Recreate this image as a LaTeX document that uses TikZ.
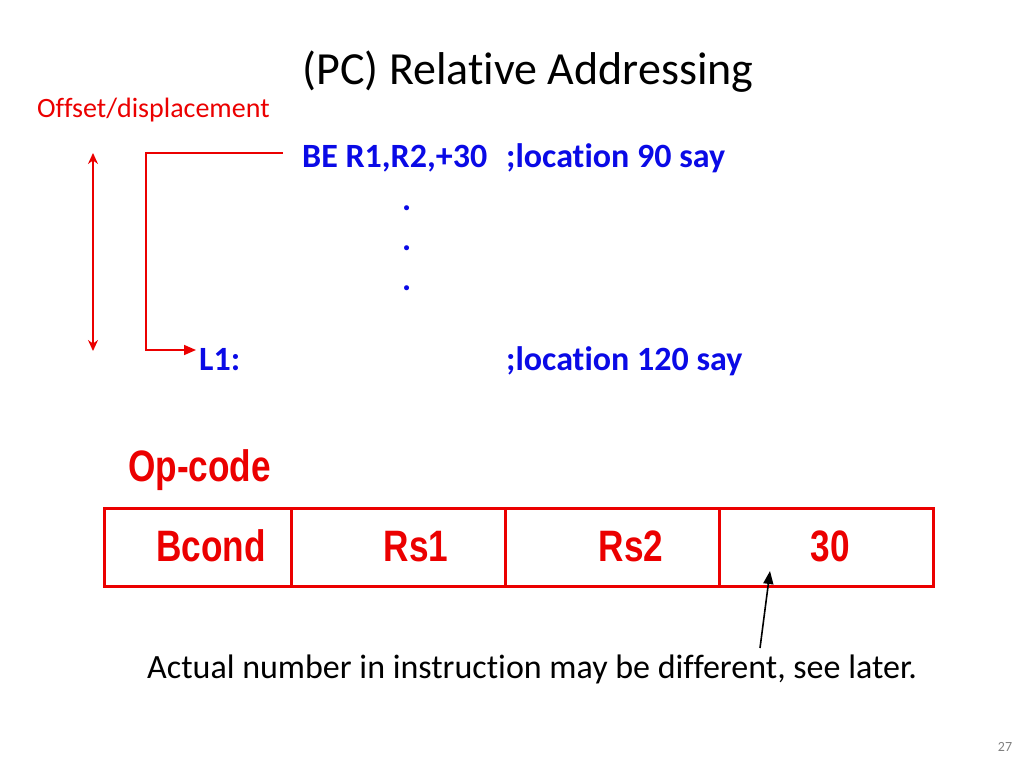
\documentclass[tikz,border=0pt]{standalone}
\usepackage{fontspec}
\setmainfont[Ligatures=NoCommon]{Carlito}
\newfontfamily\narrowfont[FakeStretch=0.80]{Liberation Sans}
\usetikzlibrary{arrows.meta}
\definecolor{myred}{RGB}{235,0,0}
\definecolor{myblue}{RGB}{10,10,230}
\tikzset{
  redline/.style={draw=myred, line width=1.6pt},
  redarrow/.style={redline, -{Triangle[length=12pt,width=10pt]}},
  code/.style={text=myblue, font=\fontsize{34}{40}\selectfont\bfseries, inner sep=0pt, anchor=base west},
  field/.style={draw=myred, line width=3pt, minimum height=78pt, inner sep=0pt},
  fieldtxt/.style={text=myred, font=\narrowfont\fontsize{44}{50}\selectfont\bfseries, inner sep=0pt},
}
\begin{document}
\begin{tikzpicture}[x=1pt,y=-1pt]
\useasboundingbox (0,0) rectangle (1024,768);
\node[anchor=base, font=\fontsize{46}{54}\selectfont, inner sep=0pt] (title) at (528,84) {(PC) Relative Addressing};
\node[anchor=base west, text=myred, font=\fontsize{28}{34}\selectfont, inner sep=0pt] (off) at (37,117) {Offset/displacement};

\node[code] (be) at (302,167) {BE R1,R2,+30};
\node[code] (loc90) at (506,167) {;location 90 say};
\node[code] (d1) at (402,210) {.};
\node[code] (d2) at (402,250) {.};
\node[code] (d3) at (402,290) {.};
\node[code] (l1) at (199,370) {L1:};
\node[code] (loc120) at (506,370) {;location 120 say};

\coordinate (bs) at (283,153);
\coordinate (c1) at (146,153);
\coordinate (c2) at (146,350);
\coordinate (c3) at (196,350);
\draw[redarrow] (bs) -- (c1) -- (c2) -- (c3);
\coordinate (a1) at (93,153);
\coordinate (a2) at (93,351);
\draw[redline, {Stealth[length=11pt,width=10pt]}-{Stealth[length=11pt,width=10pt]}] (a1) -- (a2);

\node[anchor=base west, fieldtxt] (opc) at (128,481) {Op-code};
\node[field, minimum width=187pt] (f1) at (197.5,547) {};
\node[field, minimum width=214pt] (f2) at (398,547) {};
\node[field, minimum width=214pt] (f3) at (612,547) {};
\node[field, minimum width=214pt] (f4) at (826,547) {};
\node[fieldtxt, anchor=base] (t1) at (211,561) {Bcond};
\node[fieldtxt, anchor=base] (t2) at (416,561) {Rs1};
\node[fieldtxt, anchor=base] (t3) at (631,561) {Rs2};
\node[fieldtxt, anchor=base] (t4) at (830,561) {30};

\node[anchor=base west, font=\fontsize{34}{40}\selectfont, inner sep=0pt] (cap) at (147,678) {Actual number in instruction may be different, see later.};
\coordinate (tip) at (770,571);
\coordinate (tail) at (760,648);
\draw[line width=1.6pt, -{Triangle[length=13pt,width=10pt]}] (tail) -- (tip);
\node[anchor=base, text=gray, font=\fontsize{14}{16}\selectfont, inner sep=0pt] (pg) at (1005,751) {27};
\end{tikzpicture}
\end{document}
